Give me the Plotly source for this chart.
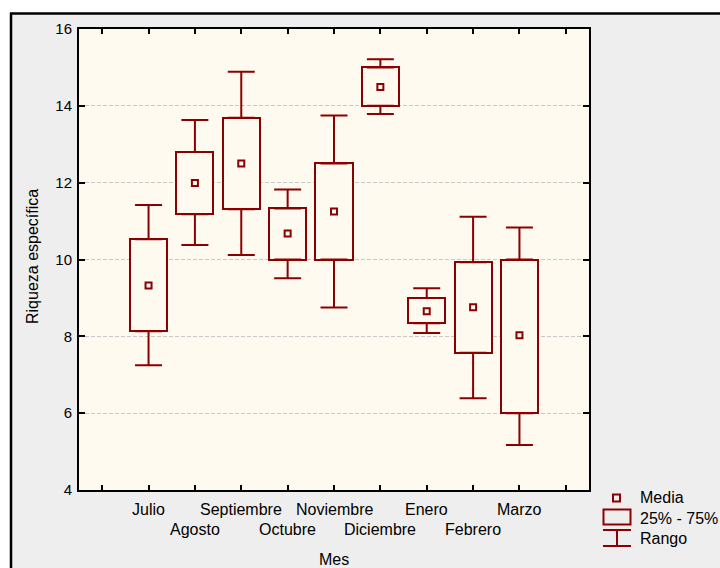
import plotly.graph_objects as go

# Riqueza específica por mes: media, cuartiles 25%-75% y rango (mín-máx)
meses = ["Julio", "Agosto", "Septiembre", "Octubre", "Noviembre",
         "Diciembre", "Enero", "Febrero", "Marzo"]
media = [9.32, 11.99, 12.50, 10.68, 11.25, 14.49, 8.65, 8.76, 8.03]
q25 = [8.13, 11.18, 11.31, 10.00, 10.00, 14.00, 8.34, 7.57, 6.00]
q75 = [10.53, 12.80, 13.69, 11.33, 12.50, 15.00, 9.00, 9.93, 10.00]
minimo = [7.25, 10.38, 10.12, 9.51, 8.75, 13.79, 8.09, 6.39, 5.17]
maximo = [11.42, 13.63, 14.89, 11.82, 13.75, 15.21, 9.25, 11.11, 10.83]
yticks = [4, 6, 8, 10, 12, 14, 16]

ROJO = "#8b0000"
FONDO_PLOT = "#fffaf0"
FONDO = "#eeeeee"
FUENTE = "Liberation Sans, Arial, sans-serif"

# categories sit on ticks 2..10 of an axis running 0.5..11.5
pos = list(range(2, 2 + len(meses)))
n = len(meses)

fig = go.Figure()

# 25%-75% boxes
fig.add_trace(go.Bar(
    x=pos, base=q25, y=[b - a for a, b in zip(q25, q75)],
    width=0.8, marker=dict(color=FONDO_PLOT, line=dict(color=ROJO, width=2)),
    showlegend=False, hoverinfo="skip",
))

# upper whiskers (box top to maximum)
fig.add_trace(go.Scatter(
    x=pos, y=q75, mode="markers", marker=dict(size=1, opacity=0),
    error_y=dict(type="data", symmetric=False,
                 array=[h - t for h, t in zip(maximo, q75)],
                 arrayminus=[0] * n, color=ROJO, thickness=2, width=13.5),
    showlegend=False, hoverinfo="skip",
))

# lower whiskers (minimum to box bottom)
fig.add_trace(go.Scatter(
    x=pos, y=q25, mode="markers", marker=dict(size=1, opacity=0),
    error_y=dict(type="data", symmetric=False,
                 array=[0] * n,
                 arrayminus=[b - l for b, l in zip(q25, minimo)],
                 color=ROJO, thickness=2, width=13.5),
    showlegend=False, hoverinfo="skip",
))

# means
fig.add_trace(go.Scatter(
    x=pos, y=media, mode="markers",
    marker=dict(symbol="square-open", size=6, color=ROJO, line=dict(width=2, color=ROJO)),
    showlegend=False,
))

# plot area spans pixels x 79..589, y 29..490
L, R, T, B = 79, 589, 29, 490
W, H = R - L, B - T


def px(xp):
    return (xp - L) / W


def py(yp):
    return (B - yp) / H


anns = []
# month labels, alternating between two rows
for i, (p, m) in enumerate(zip(pos, meses)):
    anns.append(dict(x=p, y=0, xref="x", yref="paper", text=m, showarrow=False,
                     xanchor="center", yanchor="middle",
                     yshift=-19 if i % 2 == 0 else -39,
                     font=dict(size=16, color="#000", family=FUENTE)))
anns.append(dict(x=0.5, y=0, xref="paper", yref="paper", text="Mes", showarrow=False,
                 xanchor="center", yanchor="middle", yshift=-69,
                 font=dict(size=16, color="#000", family=FUENTE)))
anns.append(dict(x=px(32), y=py(257), xref="paper", yref="paper",
                 text="Riqueza específica", showarrow=False, textangle=-90,
                 xanchor="center", yanchor="middle",
                 font=dict(size=16, color="#000", family=FUENTE)))

# legend entries
for texto, yc in [("Media", 498), ("25% - 75%", 518), ("Rango", 538)]:
    anns.append(dict(x=px(638), y=py(yc), xref="paper", yref="paper", text=texto,
                     showarrow=False, xanchor="left", yanchor="middle",
                     font=dict(size=16, color="#000", family=FUENTE)))

shapes = [
    # white margin outside the outer frame
    dict(type="rect", xref="paper", yref="paper", x0=-1, x1=3, y0=py(12.5), y1=py(-50),
         fillcolor="white", line=dict(width=0), layer="above"),
    dict(type="rect", xref="paper", yref="paper", x0=px(-50), x1=px(10), y0=py(700), y1=py(-50),
         fillcolor="white", line=dict(width=0), layer="above"),
    # outer frame
    dict(type="line", xref="paper", yref="paper", x0=px(10), x1=px(760), y0=py(13.5), y1=py(13.5),
         line=dict(color="#000", width=2.5)),
    dict(type="line", xref="paper", yref="paper", x0=px(11), x1=px(11), y0=py(13), y1=py(700),
         line=dict(color="#000", width=2.5)),
    # legend keys
    dict(type="rect", xref="paper", yref="paper", x0=px(613), x1=px(620), y0=py(494.5), y1=py(501.5),
         line=dict(color=ROJO, width=2)),
    dict(type="rect", xref="paper", yref="paper", x0=px(603.5), x1=px(630.5), y0=py(509.5), y1=py(524.5),
         line=dict(color=ROJO, width=2)),
    dict(type="line", xref="paper", yref="paper", x0=px(603), x1=px(631), y0=py(530), y1=py(530),
         line=dict(color=ROJO, width=2)),
    dict(type="line", xref="paper", yref="paper", x0=px(617), x1=px(617), y0=py(530), y1=py(546),
         line=dict(color=ROJO, width=2)),
    dict(type="line", xref="paper", yref="paper", x0=px(603), x1=px(631), y0=py(546), y1=py(546),
         line=dict(color=ROJO, width=2)),
]

fig.update_layout(
    width=720, height=568,
    margin=dict(l=L, r=720 - R, t=T, b=568 - B, pad=0),
    paper_bgcolor=FONDO, plot_bgcolor=FONDO_PLOT,
    font=dict(family=FUENTE, size=15, color="#000"),
    showlegend=False,
    annotations=anns, shapes=shapes,
    bargap=0,
)
fig.update_xaxes(
    range=[0.5, 11.5], tickvals=list(range(1, 12)), showticklabels=False,
    ticks="inside", ticklen=5, tickwidth=2, tickcolor="#000",
    showline=True, linecolor="#000", linewidth=2, mirror="ticks",
    showgrid=False, zeroline=False, fixedrange=True,
)
fig.update_yaxes(
    range=[4, 16], tickvals=yticks, ticks="inside", ticklen=6, tickwidth=2, tickcolor="#000",
    showline=True, linecolor="#000", linewidth=2, mirror="ticks",
    showgrid=True, gridcolor="#c8c8c8", gridwidth=1, griddash="4px,2px",
    zeroline=False, ticklabelstandoff=2,
    tickfont=dict(size=15, color="#000", family=FUENTE),
)

fig.write_html("out.html")
